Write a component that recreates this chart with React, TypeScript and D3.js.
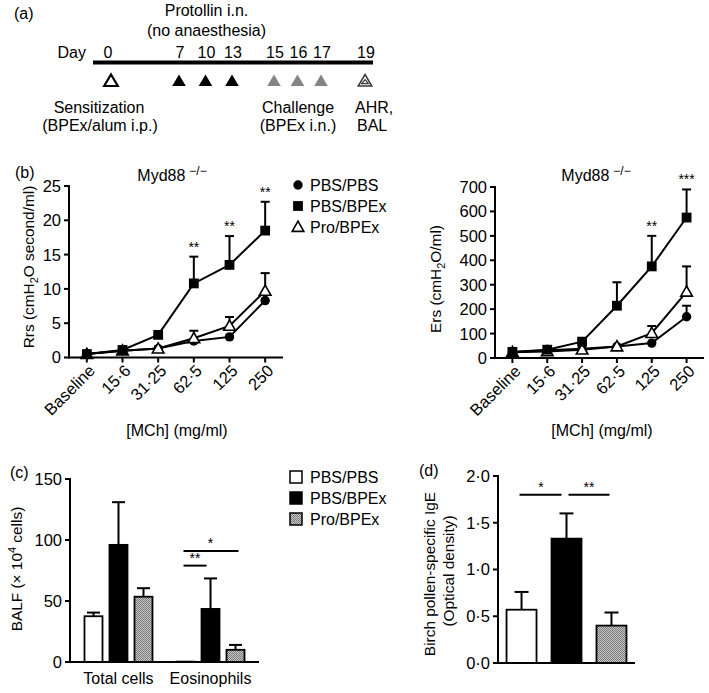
import React from 'react';
import * as d3 from 'd3';

// ---------- Panel (a) timeline ----------
const days = [0, 7, 10, 13, 15, 16, 17, 19];
const dayKinds = ['open', 'black', 'black', 'black', 'grey', 'grey', 'grey', 'double'];

// ---------- Panel (b) line charts ----------
const doses = ['Baseline', '15·6', '31·25', '62·5', '125', '250'];
const seriesNames = ['PBS/PBS', 'PBS/BPEx', 'Pro/BPEx'];
const seriesMarkers = ['circle', 'square', 'triangle'];

const rrsPBSPBS = [0.5, 1.0, 1.3, 2.4, 3.0, 8.3];
const rrsPBSPBSErr = [0, 0, 0, 0, 0, 0];
const rrsPBSBPEx = [0.5, 1.1, 3.3, 10.8, 13.5, 18.5];
const rrsPBSBPExErr = [0, 0, 0, 3.9, 4.2, 4.2];
const rrsProBPEx = [0.5, 1.0, 1.3, 2.8, 4.6, 9.7];
const rrsProBPExErr = [0, 0, 0, 1.1, 1.3, 2.6];
const rrsSig = ['', '', '', '**', '**', '**'];
const rrsTicks = [0, 5, 10, 15, 20, 25];

const ersPBSPBS = [25, 32, 38, 47, 61, 169];
const ersPBSPBSErr = [0, 0, 0, 0, 0, 45];
const ersPBSBPEx = [25, 34, 67, 214, 375, 575];
const ersPBSBPExErr = [0, 0, 0, 96, 125, 115];
const ersProBPEx = [24, 27, 34, 47, 102, 271];
const ersProBPExErr = [0, 0, 0, 0, 29, 104];
const ersSig = ['', '', '', '', '**', '***'];
const ersTicks = [0, 100, 200, 300, 400, 500, 600, 700];

// ---------- Panel (c) BALF ----------
const cellTypes = ['Total cells', 'Eosinophils'];
const balfPBSPBS = [37.5, 0.3];
const balfPBSPBSErr = [3, 0];
const balfPBSBPEx = [96, 43.5];
const balfPBSBPExErr = [35, 25];
const balfProBPEx = [53.5, 10];
const balfProBPExErr = [7, 4];
const balfTicks = [0, 50, 100, 150];

// ---------- Panel (d) IgE ----------
const igeValues = [0.57, 1.33, 0.40];
const igeErr = [0.19, 0.27, 0.14];
const igeTicks = [0, 0.5, 1.0, 1.5, 2.0];

const FONT = 'Liberation Sans, Arial, Helvetica, sans-serif';
const FS = 16;
const TFS = 16.5;
const YFS = 15.4;
const fmtDot = (v: number) => v.toFixed(1).replace('.', '·');

function Marker({ kind, x, y }: { kind: string; x: number; y: number }) {
  if (kind === 'circle') return <circle cx={x} cy={y} r={4.7} fill="#000" />;
  if (kind === 'square') return <rect x={x - 4.9} y={y - 4.9} width={9.8} height={9.8} fill="#000" />;
  const s = 5.8;
  return (
    <path
      d={`M${x},${y - s}L${x + s},${y + s * 0.75}L${x - s},${y + s * 0.75}Z`}
      fill="#fff"
      stroke="#000"
      strokeWidth={1.6}
    />
  );
}

function LinePanel({
  x0, x1, y0, y1, domainMax, ticks, series, errs, sig, titleX, ylabel, ylabelPos, xlabelX,
}: any) {
  const x = d3.scalePoint<string>().domain(doses).range([x0, x1]).padding(0.5);
  const y = d3.scaleLinear().domain([0, domainMax]).range([y0, y1]);
  const line = d3.line<number>().x((_, i) => x(doses[i]) as number).y((d) => y(d));
  const order = [0, 2, 1];
  return (
    <g>
      <text x={titleX} y={181} textAnchor="middle" fontSize={FS}>
        Myd88<tspan fontSize={12} dy={-6} dx={4}>−/−</tspan>
      </text>
      {order.map((si) =>
        series[si].map((v: number, i: number) =>
          errs[si][i] > 0 ? (
            <g key={`e${si}-${i}`} stroke="#000" strokeWidth={2}>
              <line x1={x(doses[i])} x2={x(doses[i])} y1={y(v)} y2={y(v + errs[si][i])} />
              <line x1={(x(doses[i]) as number) - 4.5} x2={(x(doses[i]) as number) + 4.5} y1={y(v + errs[si][i])} y2={y(v + errs[si][i])} />
            </g>
          ) : null
        )
      )}
      {order.map((si) => (
        <path key={`l${si}`} d={line(series[si]) as string} fill="none" stroke="#000" strokeWidth={2} />
      ))}
      {order.map((si) =>
        series[si].map((v: number, i: number) => (
          <Marker key={`m${si}-${i}`} kind={seriesMarkers[si]} x={x(doses[i]) as number} y={y(v)} />
        ))
      )}
      {sig.map((s: string, i: number) => {
        if (!s) return null;
        const top = d3.max(series.map((ser: number[], si: number) => ser[i] + errs[si][i])) as number;
        return (
          <text key={`s${i}`} x={x(doses[i])} y={y(top) - 5} textAnchor="middle" fontSize={14}>
            {s}
          </text>
        );
      })}
      <line x1={x0} x2={x1} y1={y0} y2={y0} stroke="#000" strokeWidth={2} />
      <line x1={x0} x2={x0} y1={y0 + 1} y2={y1 - 1} stroke="#000" strokeWidth={2} />
      {ticks.map((t: number) => (
        <g key={`yt${t}`}>
          <line x1={x0 - 5} x2={x0} y1={y(t)} y2={y(t)} stroke="#000" strokeWidth={2} />
          <text x={x0 - 8} y={y(t)} dy="0.36em" textAnchor="end" fontSize={TFS}>
            {t}
          </text>
        </g>
      ))}
      {doses.map((d) => (
        <g key={`xt${d}`}>
          <line x1={x(d)} x2={x(d)} y1={y0} y2={y0 + 5} stroke="#000" strokeWidth={2} />
          <text
            transform={`translate(${(x(d) as number) + 5},${y0 + 10}) rotate(-45)`}
            textAnchor="end"
            dy="0.36em"
            fontSize={TFS}
          >
            {d}
          </text>
        </g>
      ))}
      <text x={xlabelX} y={436} textAnchor="middle" fontSize={FS}>
        [MCh] (mg/ml)
      </text>
      <text transform={`translate(${ylabelPos[0]},${ylabelPos[1]}) rotate(-90)`} textAnchor="middle" fontSize={YFS}>
        {ylabel[0]}
        <tspan fontSize={11} dy={4}>2</tspan>
        <tspan dy={-4}>{ylabel[1]}</tspan>
      </text>
    </g>
  );
}

export default function App() {
  const tx = d3.scaleLinear().domain([0, 7, 13, 15, 17, 19]).range([108, 180, 233, 275, 322, 366]);

  const cx0 = 70, cx1 = 259, cy0 = 662, cy1 = 479;
  const cxOuter = d3.scalePoint<string>().domain(cellTypes).range([cx0, cx1]).padding(0.527);
  const cxInner = d3.scaleBand<string>().domain(seriesNames).range([-34, 34]).paddingInner(0.28);
  const cy = d3.scaleLinear().domain([0, 150]).range([cy0, cy1]);
  const balfVals = [balfPBSPBS, balfPBSBPEx, balfProBPEx];
  const balfErrs = [balfPBSPBSErr, balfPBSBPExErr, balfProBPExErr];
  const barFills = ['#fff', '#000', 'url(#checker)'];
  const barCenter = (g: number, s: number) =>
    (cxOuter(cellTypes[g]) as number) + (cxInner(seriesNames[s]) as number) + cxInner.bandwidth() / 2;

  const dx0 = 498, dx1 = 635, dy0 = 663, dy1 = 476;
  const dxs = d3.scaleBand<string>().domain(seriesNames).range([dx0, dx1]).paddingInner(1 / 3).paddingOuter(0.19);
  const dys = d3.scaleLinear().domain([0, 2]).range([dy0, dy1]);
  const dCenter = (s: number) => (dxs(seriesNames[s]) as number) + dxs.bandwidth() / 2;

  return (
    <svg
      width={709}
      height={693}
      style={{ position: 'absolute', left: 0, top: 0, background: '#fff' }}
      fontFamily={FONT}
    >
      <defs>
        <pattern id="checker" width={2} height={2} patternUnits="userSpaceOnUse">
          <rect width={2} height={2} fill="#c8c8c8" />
          <rect width={1} height={1} fill="#7a7a7a" />
          <rect x={1} y={1} width={1} height={1} fill="#7a7a7a" />
        </pattern>
      </defs>
      <rect width={709} height={693} fill="#fff" />

      {/* ================= Panel (a) ================= */}
      <text x={14} y={19} fontSize={FS}>(a)</text>
      <text x={tx(10)} y={16} textAnchor="middle" fontSize={FS}>Protollin i.n.</text>
      <text x={tx(10)} y={36} textAnchor="middle" fontSize={FS}>(no anaesthesia)</text>
      <text x={86} y={58} textAnchor="end" fontSize={FS}>Day</text>
      {days.map((d) => (
        <text key={`d${d}`} x={tx(d)} y={58} textAnchor="middle" fontSize={FS}>{d}</text>
      ))}
      <line x1={93} x2={373} y1={62.5} y2={62.5} stroke="#000" strokeWidth={4} />
      {days.map((d, i) => {
        const x = tx(d) + (i === 0 ? 3 : -1);
        const top = 74.5, bot = 86, hw = 6.8;
        const p = `M${x},${top}L${x + hw},${bot}L${x - hw},${bot}Z`;
        const k = dayKinds[i];
        if (k === 'open') return <path key={`t${i}`} d={p} fill="#fff" stroke="#000" strokeWidth={2.2} />;
        if (k === 'black') return <path key={`t${i}`} d={p} fill="#000" />;
        if (k === 'grey') return <path key={`t${i}`} d={p} fill="#858585" />;
        const pin = `M${x},${top + 5.2}L${x + 3.3},${bot - 2.4}L${x - 3.3},${bot - 2.4}Z`;
        return (
          <g key={`t${i}`}>
            <path d={p} fill="#fff" stroke="#3a3a3a" strokeWidth={1.5} />
            <path d={pin} fill="#fff" stroke="#3a3a3a" strokeWidth={1.3} />
          </g>
        );
      })}
      <text x={99} y={113} textAnchor="middle" fontSize={FS}>Sensitization</text>
      <text x={100} y={131} textAnchor="middle" fontSize={FS}>(BPEx/alum i.p.)</text>
      <text x={298} y={113} textAnchor="middle" fontSize={FS}>Challenge</text>
      <text x={298} y={131} textAnchor="middle" fontSize={FS}>(BPEx i.n.)</text>
      <text x={355} y={113} fontSize={FS}>AHR,</text>
      <text x={357} y={131} fontSize={FS}>BAL</text>

      {/* ================= Panel (b) ================= */}
      <text x={15} y={178} fontSize={FS}>(b)</text>
      <LinePanel
        x0={69} x1={283} y0={357.5} y1={186} domainMax={25} ticks={rrsTicks}
        series={[rrsPBSPBS, rrsPBSBPEx, rrsProBPEx]}
        errs={[rrsPBSPBSErr, rrsPBSBPExErr, rrsProBPExErr]}
        sig={rrsSig} titleX={172} xlabelX={177}
        ylabel={['Rrs (cmH', 'O second/ml)']} ylabelPos={[34, 267]}
      />
      <LinePanel
        x0={495} x1={704} y0={358} y1={187} domainMax={700} ticks={ersTicks}
        series={[ersPBSPBS, ersPBSBPEx, ersProBPEx]}
        errs={[ersPBSPBSErr, ersPBSBPExErr, ersProBPExErr]}
        sig={ersSig} titleX={596} xlabelX={602}
        ylabel={['Ers (cmH', 'O/ml)']} ylabelPos={[441, 279]}
      />
      {seriesNames.map((n, i) => (
        <g key={`lgb${n}`}>
          <Marker kind={seriesMarkers[i]} x={298} y={185 + i * 21} />
          <text x={310} y={185 + i * 21} dy="0.36em" fontSize={FS}>{n}</text>
        </g>
      ))}

      {/* ================= Panel (c) ================= */}
      <text x={10} y={478} fontSize={FS}>(c)</text>
      {cellTypes.map((c, g) =>
        seriesNames.map((s, si) => {
          const v = balfVals[si][g];
          const e = balfErrs[si][g];
          const bx = (cxOuter(c) as number) + (cxInner(s) as number);
          const cxm = barCenter(g, si);
          return (
            <g key={`cb${g}-${si}`}>
              {e > 0 && (
                <g stroke="#000" strokeWidth={2}>
                  <line x1={cxm} x2={cxm} y1={cy(v)} y2={cy(v + e)} />
                  <line x1={cxm - 6.5} x2={cxm + 6.5} y1={cy(v + e)} y2={cy(v + e)} />
                </g>
              )}
              <rect
                x={bx}
                y={cy(v)}
                width={cxInner.bandwidth()}
                height={cy0 - cy(v)}
                fill={barFills[si]}
                stroke="#000"
                strokeWidth={1.8}
              />
            </g>
          );
        })
      )}
      <g stroke="#000" strokeWidth={2}>
        <line x1={barCenter(1, 0) - 2} x2={barCenter(1, 1) - 4} y1={cy(79)} y2={cy(79)} />
        <line x1={barCenter(1, 0) - 2} x2={barCenter(1, 2) + 3} y1={cy(91)} y2={cy(91)} />
      </g>
      <text x={(barCenter(1, 0) + barCenter(1, 1)) / 2 - 3} y={cy(79) - 3} textAnchor="middle" fontSize={14}>**</text>
      <text x={(barCenter(1, 0) + barCenter(1, 2)) / 2} y={cy(91) - 3} textAnchor="middle" fontSize={14}>*</text>
      <line x1={cx0} x2={cx1} y1={cy0} y2={cy0} stroke="#000" strokeWidth={2} />
      <line x1={cx0} x2={cx0} y1={cy0 + 1} y2={cy1 - 1} stroke="#000" strokeWidth={2} />
      {balfTicks.map((t) => (
        <g key={`cyt${t}`}>
          <line x1={cx0 - 5} x2={cx0} y1={cy(t)} y2={cy(t)} stroke="#000" strokeWidth={2} />
          <text x={cx0 - 8} y={cy(t)} dy="0.36em" textAnchor="end" fontSize={TFS}>{t}</text>
        </g>
      ))}
      {cellTypes.map((c) => (
        <text key={`cx${c}`} x={cxOuter(c)} y={684} textAnchor="middle" fontSize={FS}>{c}</text>
      ))}
      <text transform="translate(22,569) rotate(-90)" textAnchor="middle" fontSize={YFS}>
        BALF (× 10<tspan fontSize={11} dy={-6}>4</tspan>
        <tspan dy={6}> cells)</tspan>
      </text>
      {seriesNames.map((n, i) => (
        <g key={`lgc${n}`}>
          <rect x={290} y={477 + i * 21 - 6} width={12} height={12} fill={barFills[i]} stroke="#000" strokeWidth={1.5} />
          <text x={310} y={477 + i * 21} dy="0.36em" fontSize={FS}>{n}</text>
        </g>
      ))}

      {/* ================= Panel (d) ================= */}
      <text x={419} y={476} fontSize={FS}>(d)</text>
      {seriesNames.map((s, i) => {
        const v = igeValues[i];
        const e = igeErr[i];
        const c = dCenter(i);
        return (
          <g key={`db${s}`}>
            <g stroke="#000" strokeWidth={2}>
              <line x1={c} x2={c} y1={dys(v)} y2={dys(v + e)} />
              <line x1={c - 7} x2={c + 7} y1={dys(v + e)} y2={dys(v + e)} />
            </g>
            <rect
              x={dxs(s)}
              y={dys(v)}
              width={dxs.bandwidth()}
              height={dy0 - dys(v)}
              fill={barFills[i]}
              stroke="#000"
              strokeWidth={1.8}
            />
          </g>
        );
      })}
      <g stroke="#000" strokeWidth={2}>
        <line x1={dCenter(0) - 2} x2={dCenter(1) - 5} y1={dys(1.8)} y2={dys(1.8)} />
        <line x1={dCenter(1) + 2} x2={dCenter(2) - 2} y1={dys(1.8)} y2={dys(1.8)} />
      </g>
      <text x={(dCenter(0) + dCenter(1)) / 2 - 3} y={dys(1.8) - 3} textAnchor="middle" fontSize={14}>*</text>
      <text x={(dCenter(1) + dCenter(2)) / 2} y={dys(1.8) - 3} textAnchor="middle" fontSize={14}>**</text>
      <line x1={dx0} x2={dx1} y1={dy0} y2={dy0} stroke="#000" strokeWidth={2} />
      <line x1={dx0} x2={dx0} y1={dy0 + 1} y2={dy1 - 1} stroke="#000" strokeWidth={2} />
      {igeTicks.map((t) => (
        <g key={`dyt${t}`}>
          <line x1={dx0 - 5} x2={dx0} y1={dys(t)} y2={dys(t)} stroke="#000" strokeWidth={2} />
          <text x={dx0 - 8} y={dys(t)} dy="0.36em" textAnchor="end" fontSize={TFS}>{fmtDot(t)}</text>
        </g>
      ))}
      <text transform="translate(435,574) rotate(-90)" textAnchor="middle" fontSize={YFS}>
        Birch pollen-specific IgE
      </text>
      <text transform="translate(454,571) rotate(-90)" textAnchor="middle" fontSize={YFS}>
        (Optical density)
      </text>
    </svg>
  );
}
